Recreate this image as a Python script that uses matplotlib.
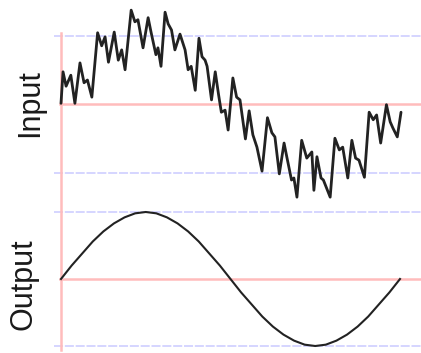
import matplotlib
matplotlib.use("Agg")
import matplotlib.pyplot as plt

# Noisy input signal (time as fraction of one period, amplitude in units of the output peak)
input_t = [0.000, 0.006, 0.015, 0.029, 0.041, 0.056, 0.068, 0.078, 0.091, 0.108,
           0.120, 0.130, 0.140, 0.157, 0.169, 0.179, 0.189, 0.207, 0.218, 0.227,
           0.242, 0.257, 0.266, 0.280, 0.286, 0.295, 0.307, 0.316, 0.326, 0.336,
           0.351, 0.366, 0.375, 0.384, 0.396, 0.407, 0.416, 0.425, 0.431, 0.444,
           0.455, 0.465, 0.473, 0.484, 0.493, 0.507, 0.518, 0.528, 0.544, 0.555,
           0.566, 0.578, 0.593, 0.609, 0.622, 0.631, 0.644, 0.658, 0.666, 0.680,
           0.687, 0.696, 0.710, 0.725, 0.740, 0.746, 0.755, 0.767, 0.774, 0.794,
           0.808, 0.821, 0.831, 0.846, 0.858, 0.869, 0.879, 0.895, 0.909, 0.921,
           0.931, 0.943, 0.960, 0.971, 0.979, 0.992, 1.003]
input_v = [0.01, 0.47, 0.26, 0.42, 0.01, 0.60, 0.31, 0.35, 0.10, 1.04,
           0.85, 0.98, 0.61, 1.05, 0.64, 0.79, 0.50, 1.37, 1.20, 1.23,
           0.82, 1.26, 1.04, 0.72, 0.82, 0.55, 1.34, 1.17, 1.08, 0.79,
           1.02, 0.79, 0.50, 0.55, 0.20, 0.96, 0.69, 0.64, 0.55, 0.06,
           0.47, 0.13, -0.12, -0.09, -0.38, 0.38, 0.10, 0.06, -0.51, -0.10,
           -0.45, -0.63, -0.98, -0.20, -0.42, -0.48, -1.02, -0.57, -0.77, -1.11,
           -1.08, -1.36, -0.53, -0.79, -0.70, -1.26, -0.77, -1.08, -1.11, -1.36,
           -0.50, -0.67, -0.63, -1.08, -0.53, -0.79, -0.82, -1.07, -0.12, -0.23,
           -0.16, -0.57, -0.01, -0.26, -0.35, -0.48, -0.12]

# Filtered output signal sampled every 1/32 of the period
output_t = [k / 32 for k in range(33)]
output_v = [0.00, 0.20, 0.38, 0.56, 0.71, 0.83, 0.92, 0.98, 1.00, 0.98, 0.92,
            0.83, 0.71, 0.56, 0.38, 0.20, 0.00, -0.20, -0.38, -0.56, -0.71,
            -0.83, -0.92, -0.98, -1.00, -0.98, -0.92, -0.83, -0.71, -0.56,
            -0.38, -0.20, 0.00]

labels = ["Input", "Output"]

W, H = 421, 353
fig = plt.figure(figsize=(W / 100, H / 100), dpi=100)
fig.patch.set_facecolor("white")

blue = "#d2d2ff"
red = "#ffbcbc"

# pixel-space layout helpers
x0_px, x1_px = 61, 400          # t = 0 and t = 1
ax_left_px = 54
xlim = ((ax_left_px - x0_px) / (x1_px - x0_px), (W - x0_px) / (x1_px - x0_px))


def make_axes(top_px, bottom_px, center_px, amp_px):
    ax = fig.add_axes([ax_left_px / W, 1 - bottom_px / H,
                       (W - ax_left_px) / W, (bottom_px - top_px) / H])
    ax.set_xlim(*xlim)
    ax.set_ylim((center_px - bottom_px) / amp_px, (center_px - top_px) / amp_px)
    ax.axis("off")
    return ax


ax_in = make_axes(0, 205, 104, 68.5)
ax_out = make_axes(205, 353, 279, 67)

for ax in (ax_in, ax_out):
    for yv in (1, -1):
        ax.axhline(yv, color=blue, lw=1.3, ls=(0, (5, 1)), zorder=1)
    ax.axhline(0, xmin=(60 - ax_left_px) / (W - ax_left_px), color=red, lw=1.8, zorder=1)

# vertical zero-time axis spanning both panels
ax_in.axvline(0, ymin=0, ymax=(205 - 33) / 205, color=red, lw=1.8, zorder=1)
ax_out.axvline(0, ymin=(353 - 350) / 148, ymax=1, color=red, lw=1.8, zorder=1)

ax_in.plot(input_t, input_v, color="#222222", lw=2.0, solid_joinstyle="round",
           solid_capstyle="round", zorder=3)
ax_out.plot(output_t, output_v, color="#222222", lw=1.5, zorder=3)

fig.text(30 / W, 1 - 103 / H, labels[0], rotation=90, ha="center", va="center",
         fontsize=22, family="Liberation Sans", color="#1a1a1a")
fig.text(24 / W, 1 - 284 / H, labels[1], rotation=90, ha="center", va="center",
         fontsize=22, family="Liberation Sans", color="#1a1a1a")

fig.savefig("out.png", dpi=100, facecolor="white")
